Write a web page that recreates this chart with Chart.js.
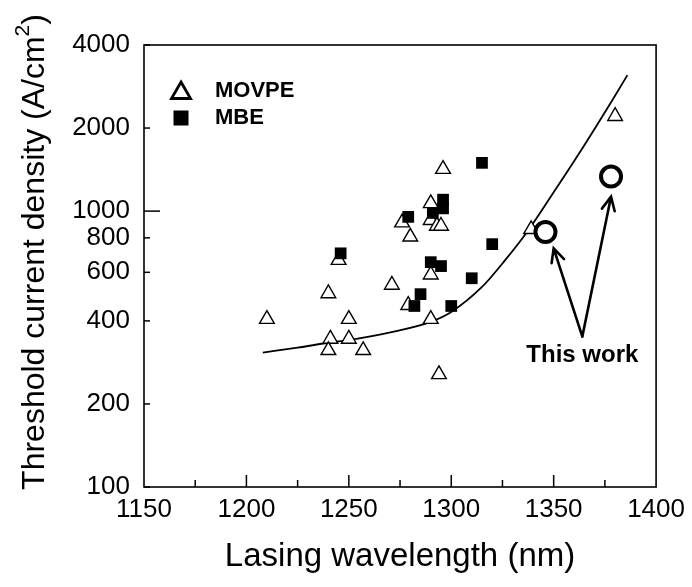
<!DOCTYPE html>
<html>
<head>
<meta charset="utf-8">
<script src="https://cdn.jsdelivr.net/npm/chart.js@4.4.0/dist/chart.umd.min.js"></script>
<style>
  html, body { margin: 0; padding: 0; background: #fff; }
  #wrap { width: 692px; height: 587px; }
</style>
</head>
<body>
<div id="wrap"><canvas id="grafico" width="692" height="587"></canvas></div>
<script>
// MOVPE (triangulos blancos)
const movpeX = [1210, 1240, 1241, 1240, 1250, 1250, 1257, 1245, 1271, 1276, 1280, 1279, 1290, 1290, 1293, 1295, 1290, 1290, 1296, 1294, 1339, 1380];
const movpeY = [406, 503, 344, 313, 406, 344, 313, 664, 540, 908, 807, 456, 1067, 927, 883, 883, 588, 406, 1420, 256, 859, 2208];

// MBE (cuadrados negros)
const mbeX = [1246, 1279, 1291, 1296, 1296, 1290, 1295, 1310, 1285, 1282, 1300, 1315, 1320];
const mbeY = [703, 953, 985, 1100, 1023, 653, 632, 571, 500, 453, 453, 1496, 759];

// This work (circulos)
const workX = [1346, 1378];
const workY = [840, 1334];

// curva de referencia
const curvaX = [1208, 1225, 1241, 1250, 1272, 1290, 1300, 1315, 1326, 1338, 1350, 1362, 1379, 1386];
const curvaY = [307, 320, 334, 341, 366, 397, 431, 531, 660, 860, 1170, 1600, 2550, 3110];

// flechas desde el texto "This work"
const flechaOrigen = [1364, 351];
const flechaX = [1350, 1378];
const flechaY = [733, 1128];
const textoPos = [1364, 299];

// ticks
const yTicks = [100, 200, 400, 600, 800, 1000, 2000, 4000];
const xMin = 1150, xMax = 1400;

function puntos(xs, ys) {
  return xs.map((x, i) => ({ x: x, y: ys[i] }));
}

const fuente = '"Liberation Sans", Arial, sans-serif';

const marco = {
  id: 'marco',
  afterDraw(chart) {
    const ctx = chart.ctx;
    const a = chart.chartArea;
    const sx = chart.scales.x;
    const sy = chart.scales.y;
    ctx.save();
    ctx.strokeStyle = '#000';
    ctx.fillStyle = '#000';

    // ticks hacia dentro
    ctx.lineWidth = 1.5;
    for (let v = xMin + 25; v < xMax; v += 25) {
      const px = sx.getPixelForValue(v);
      const largo = v % 50 === 0 ? 12 : 7;
      ctx.beginPath();
      ctx.moveTo(px, a.bottom);
      ctx.lineTo(px, a.bottom - largo);
      ctx.stroke();
    }
    yTicks.forEach((v) => {
      const py = sy.getPixelForValue(v);
      const largo = v === 1000 ? 16 : 6;
      ctx.beginPath();
      ctx.moveTo(a.left, py);
      ctx.lineTo(a.left + largo, py);
      ctx.stroke();
    });

    // caja
    ctx.lineWidth = 1.6;
    ctx.strokeRect(a.left, a.top, a.right - a.left, a.bottom - a.top);

    // flechas
    const ox = sx.getPixelForValue(flechaOrigen[0]);
    const oy = sy.getPixelForValue(flechaOrigen[1]);
    ctx.lineWidth = 2.6;
    ctx.lineCap = 'round';
    for (let i = 0; i < flechaX.length; i++) {
      const tx = sx.getPixelForValue(flechaX[i]);
      const ty = sy.getPixelForValue(flechaY[i]);
      const ang = Math.atan2(ty - oy, tx - ox);
      ctx.beginPath();
      ctx.moveTo(ox, oy);
      ctx.lineTo(tx, ty);
      ctx.moveTo(tx - 15 * Math.cos(ang - 0.45), ty - 15 * Math.sin(ang - 0.45));
      ctx.lineTo(tx, ty);
      ctx.lineTo(tx - 15 * Math.cos(ang + 0.45), ty - 15 * Math.sin(ang + 0.45));
      ctx.stroke();
    }

    // texto "This work"
    ctx.font = 'bold 24px ' + fuente;
    ctx.textAlign = 'center';
    ctx.textBaseline = 'middle';
    ctx.fillText('This work', sx.getPixelForValue(textoPos[0]), sy.getPixelForValue(textoPos[1]));

    // leyenda dentro del grafico
    const lx = a.left + 37;
    const ly1 = a.top + 46;
    const ly2 = a.top + 73;
    ctx.fillStyle = '#fff';
    ctx.lineWidth = 2.8;
    ctx.lineCap = 'butt';
    Chart.helpers.drawPoint(ctx, { pointStyle: 'triangle', radius: 11, rotation: 0, borderWidth: 2.8 }, lx, ly1 + 2);
    ctx.fillStyle = '#000';
    ctx.fillRect(lx - 7.5, ly2 - 7.5, 15, 15);
    ctx.font = 'bold 22px ' + fuente;
    ctx.textAlign = 'left';
    ctx.fillText('MOVPE', a.left + 71, ly1);
    ctx.fillText('MBE', a.left + 71, ly2);

    // titulo eje y con superindice
    ctx.translate(35, 252);
    ctx.rotate(-Math.PI / 2);
    const base = 'Threshold current density (A/cm';
    ctx.font = '32px ' + fuente;
    const w1 = ctx.measureText(base).width;
    const w3 = ctx.measureText(')').width;
    ctx.font = '21px ' + fuente;
    const w2 = ctx.measureText('2').width;
    let inicio = -(w1 + w2 + w3) / 2;
    ctx.textAlign = 'left';
    ctx.font = '32px ' + fuente;
    ctx.fillText(base, inicio, 0);
    ctx.font = '21px ' + fuente;
    ctx.fillText('2', inicio + w1, -12);
    ctx.font = '32px ' + fuente;
    ctx.fillText(')', inicio + w1 + w2, 0);

    ctx.restore();
  }
};

function grafico() {
  const ctx = document.getElementById('grafico');
  new Chart(ctx, {
    type: 'scatter',
    data: {
      datasets: [
        {
          label: 'This work',
          data: puntos(workX, workY),
          pointStyle: 'circle',
          pointRadius: 10,
          borderWidth: 4,
          borderColor: '#000',
          backgroundColor: '#fff',
        },
        {
          label: 'MBE',
          data: puntos(mbeX, mbeY),
          pointStyle: 'rect',
          pointRadius: 8.3,
          borderWidth: 0,
          borderColor: '#000',
          backgroundColor: '#000',
        },
        {
          label: 'MOVPE',
          data: puntos(movpeX, movpeY),
          pointStyle: 'triangle',
          pointRadius: 8.5,
          borderWidth: 1.4,
          borderColor: '#000',
          backgroundColor: '#fff',
        },
        {
          label: 'curva',
          type: 'line',
          data: puntos(curvaX, curvaY),
          showLine: true,
          pointRadius: 0,
          borderColor: '#000',
          borderWidth: 1.8,
          cubicInterpolationMode: 'monotone',
          fill: false,
        },
      ],
    },
    options: {
      animation: false,
      responsive: false,
      layout: { padding: { left: 0, top: 45, right: 35, bottom: 0 } },
      plugins: { legend: { display: false }, tooltip: { enabled: false } },
      scales: {
        x: {
          type: 'linear',
          min: xMin,
          max: xMax,
          ticks: { stepSize: 50, color: '#000', font: { family: fuente, size: 26 }, padding: 7, callback: (v) => String(v) },
          grid: { display: false, drawTicks: false },
          border: { display: false },
          title: {
            display: true,
            text: 'Lasing wavelength (nm)',
            color: '#000',
            font: { family: fuente, size: 33 },
            padding: { top: 0, bottom: 10 },
          },
          afterFit(s) { s.height = 100; },
        },
        y: {
          type: 'logarithmic',
          min: 100,
          max: 4000,
          afterBuildTicks(s) { s.ticks = yTicks.map((v) => ({ value: v })); },
          ticks: { color: '#000', font: { family: fuente, size: 26 }, padding: 14, callback: (v) => String(v) },
          grid: { display: false, drawTicks: false },
          border: { display: false },
          afterFit(s) { s.width = 144; },
        },
      },
    },
    plugins: [marco],
  });
}

document.addEventListener('DOMContentLoaded', grafico);
</script>
</body>
</html>
